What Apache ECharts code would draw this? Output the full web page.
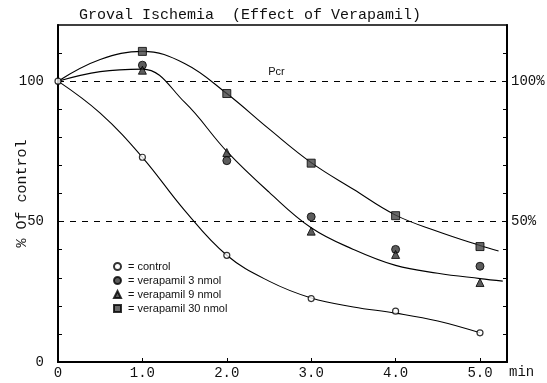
<!DOCTYPE html>
<html>
<head>
<meta charset="utf-8">
<script src="https://cdn.jsdelivr.net/npm/echarts@6/dist/echarts.min.js"></script>
<style>
html,body{margin:0;padding:0;background:#fff;}
#c{width:547px;height:383px;}
</style>
</head>
<body>
<div id="c"></div>
<script>
// measured points
const times = [0, 1, 2, 3, 4, 5];
const control = [100, 72.9, 38.0, 22.6, 18.1, 10.4];
const veraTimes = [1, 2, 3, 4, 5];
const vera3 = [105.7, 71.7, 51.7, 40.1, 34.1];
const vera9 = [103.9, 74.6, 46.6, 38.3, 28.3];
const vera30 = [110.6, 95.6, 70.8, 52.1, 41.1];

// hand-drawn fitted curves
const fitControlX = [0, 0.5, 1, 1.5, 2, 2.5, 3, 3.5, 4, 4.5, 5];
const fitControl = [100, 88.6, 72.9, 54, 38.0, 28.8, 22.8, 19.6, 17.4, 14.6, 10.4];
const fitMidX = [0, 0.5, 1, 1.5, 2, 2.5, 3, 3.5, 4, 4.5, 5, 5.27];
const fitMid = [100, 103.4, 104.3, 92.5, 75.0, 60.5, 47.8, 40.1, 34.4, 31.6, 29.7, 28.8];
const fitTopX = [0, 0.5, 1, 1.5, 2, 2.5, 3, 3.5, 4, 4.5, 5, 5.22];
const fitTop = [100, 107.7, 110.6, 106.3, 95.6, 83, 71, 61.5, 52.3, 46.5, 41.5, 39.5];

const xTicks = ['0', '1.0', '2.0', '3.0', '4.0', '5.0'];
const yLeftLabels = {0: '0', 50: '50', 100: '100'};
const yRightLabels = {50: '50%', 100: '100%'};

const names = ['control', 'verapamil 3 nmol', 'verapamil 9 nmol', 'verapamil 30 nmol'];

const zip = (xs, ys) => xs.map((x, i) => [x, ys[i]]);
const mono = 'Liberation Mono';
const curveStyle = {color: '#000', width: 1.1};

const chart = echarts.init(document.getElementById('c'));
chart.setOption({
  animation: false,
  backgroundColor: '#fff',
  title: {
    text: 'Groval Ischemia  (Effect of Verapamil)',
    left: 74, top: 3,
    textStyle: {fontFamily: mono, fontSize: 15, fontWeight: 'normal', color: '#111'}
  },
  grid: {left: 58, right: 40, top: 25, bottom: 21, show: true, borderColor: '#000', borderWidth: 1.5,
    containLabel: false, outerBoundsMode: 'none'},
  legend: {
    data: names,
    orient: 'vertical',
    left: 108, top: 256,
    itemGap: 3,
    itemWidth: 7, itemHeight: 7,
    formatter: '= {name}',
    textStyle: {fontFamily: 'Liberation Sans', fontSize: 11, color: '#111', padding: [0, 0, 0, 2]}
  },
  xAxis: {
    type: 'value', min: 0, max: 5.32, interval: 1,
    axisLine: {lineStyle: {color: '#000', width: 2}},
    axisTick: {inside: true, length: 4, lineStyle: {color: '#000'}},
    splitLine: {show: false},
    axisLabel: {
      showMaxLabel: false, margin: 4,
      fontFamily: mono, fontSize: 14, color: '#111',
      formatter: v => xTicks[Math.round(v)] !== undefined ? xTicks[Math.round(v)] : ''
    }
  },
  yAxis: [{
    type: 'value', min: 0, max: 120, interval: 10, position: 'left',
    name: '% Of control', nameLocation: 'middle', nameGap: 28, nameRotate: 90,
    nameMoveOverlap: false,
    nameTextStyle: {fontFamily: mono, fontSize: 15, color: '#111'},
    axisLine: {show: true, lineStyle: {color: '#000', width: 2}},
    axisTick: {show: true, inside: true, length: 4, lineStyle: {color: '#000'}},
    splitLine: {show: false},
    axisLabel: {margin: 14, fontFamily: mono, fontSize: 14, color: '#111',
      showMaxLabel: false,
      formatter: v => yLeftLabels[v] || ''}
  }, {
    type: 'value', min: 0, max: 120, interval: 10, position: 'right',
    axisLine: {show: true, lineStyle: {color: '#000', width: 2}},
    axisTick: {show: true, inside: true, length: 4, lineStyle: {color: '#000'}},
    splitLine: {show: false},
    axisLabel: {margin: 4, fontFamily: mono, fontSize: 14, color: '#111',
      showMaxLabel: false,
      formatter: v => yRightLabels[v] || ''}
  }],
  graphic: [{
    type: 'text', left: 509, top: 365,
    style: {text: 'min', font: '14px "Liberation Mono"', fill: '#111'}
  }],
  series: [
    {
      type: 'line', data: zip(fitControlX, fitControl), smooth: 0.4, showSymbol: false,
      lineStyle: curveStyle, silent: true, z: 2,
      markLine: {
        silent: true, symbol: 'none',
        lineStyle: {color: '#000', type: [6, 6], width: 1.1},
        data: [
          {yAxis: 100, label: {show: true, formatter: 'Pcr', position: 'insideMiddleTop',
            color: '#111', fontSize: 11, fontFamily: 'Liberation Sans', distance: 4, offset: [-6, 0]}},
          {yAxis: 50, label: {show: false}}
        ]
      }
    },
    {
      type: 'line', data: zip(fitMidX, fitMid), smooth: 0.4, showSymbol: false,
      lineStyle: curveStyle, silent: true, z: 2
    },
    {
      type: 'line', data: zip(fitTopX, fitTop), smooth: 0.4, showSymbol: false,
      lineStyle: curveStyle, silent: true, z: 2
    },
    {
      name: names[0], type: 'scatter', data: zip(times, control),
      symbol: 'circle', symbolSize: 6,
      itemStyle: {color: '#fff', borderColor: '#000', borderWidth: 1.2}, z: 5
    },
    {
      name: names[1], type: 'scatter', data: zip(veraTimes, vera3),
      symbol: 'circle', symbolSize: 8,
      itemStyle: {color: '#333', borderColor: '#000', borderWidth: 1}, z: 5
    },
    {
      name: names[2], type: 'scatter', data: zip(veraTimes, vera9),
      symbol: 'triangle', symbolSize: 8,
      itemStyle: {color: '#333', borderColor: '#000', borderWidth: 1}, z: 5
    },
    {
      name: names[3], type: 'scatter', data: zip(veraTimes, vera30),
      symbol: 'rect', symbolSize: 8,
      itemStyle: {color: '#444', borderColor: '#000', borderWidth: 1}, z: 5
    }
  ]
});
</script>
</body>
</html>
